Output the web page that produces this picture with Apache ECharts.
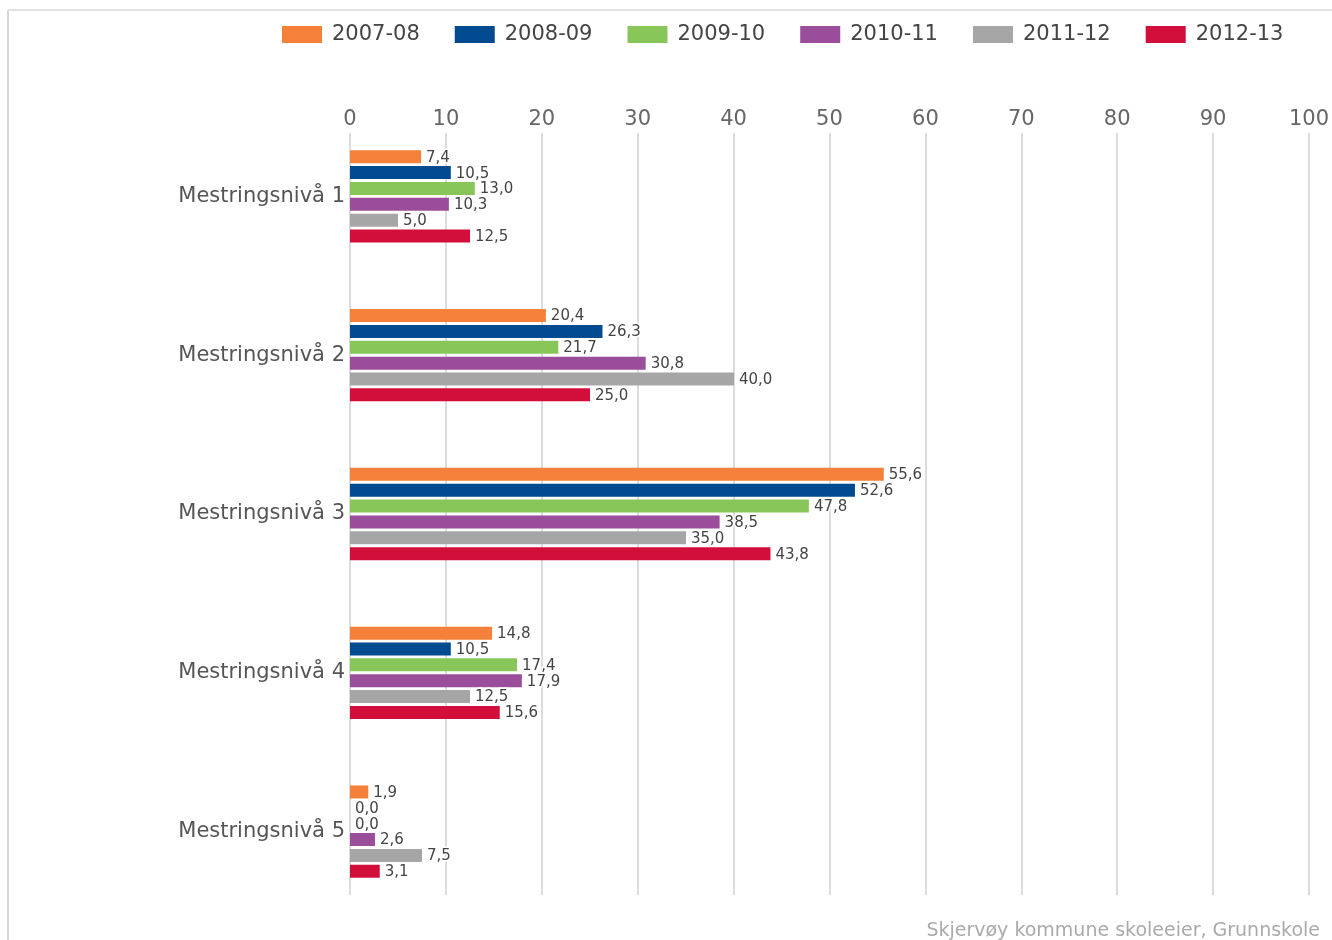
<!DOCTYPE html>
<html>
<head>
<meta charset="utf-8">
<script src="https://cdn.jsdelivr.net/npm/echarts@6/dist/echarts.min.js"></script>
<style>
	html, body { margin: 0; padding: 0; background: #fff; }
	#chart { width: 1332px; height: 940px; }
</style>
</head>
<body>
<div id="chart"></div>
<script>
	var categories = ["Mestringsnivå 1", "Mestringsnivå 2", "Mestringsnivå 3", "Mestringsnivå 4", "Mestringsnivå 5"];
	var years = ["2007-08", "2008-09", "2009-10", "2010-11", "2011-12", "2012-13"];
	var colors = ["#f5803a", "#004a8f", "#88c65a", "#9a4d9a", "#a6a6a6", "#d10f3a"];
	var v2007 = [7.4, 20.4, 55.6, 14.8, 1.9];
	var v2008 = [10.5, 26.3, 52.6, 10.5, 0.0];
	var v2009 = [13.0, 21.7, 47.8, 17.4, 0.0];
	var v2010 = [10.3, 30.8, 38.5, 17.9, 2.6];
	var v2011 = [5.0, 40.0, 35.0, 12.5, 7.5];
	var v2012 = [12.5, 25.0, 43.8, 15.6, 3.1];
	var values = [v2007, v2008, v2009, v2010, v2011, v2012];
	var ticks = [0, 10, 20, 30, 40, 50, 60, 70, 80, 90, 100];

	var font = "DejaVu Sans";
	var chart = echarts.init(document.getElementById("chart"));

	var series = years.map(function(y, i) {
		return {
			name: y,
			type: "bar",
			xAxisIndex: 0,
			yAxisIndex: 0,
			data: values[i],
			barWidth: 13,
			barGap: "22%",
			itemStyle: { color: colors[i] },
			label: {
				show: true,
				position: "right",
				distance: 5,
				offset: [0, 1],
				fontFamily: font,
				fontSize: 15,
				color: "#444",
				textBorderColor: "#fff",
				textBorderWidth: 3,
				formatter: function(p) { return p.value.toFixed(1).replace(".", ","); }
			}
		};
	});

	chart.setOption({
		animation: false,
		color: colors,
		legend: {
			data: years,
			left: 277,
			top: 19,
			itemWidth: 40,
			itemHeight: 17,
			itemGap: 35,
			icon: "rect",
			textStyle: { fontFamily: font, fontSize: 21, color: "#444", width: 90, padding: [0, 0, 0, 5] }
		},
		grid: [
			{ left: 350, right: 22, top: 117, height: 794 },
			{ left: 350, right: 22, top: 133, height: 762 }
		],
		xAxis: [
			{ gridIndex: 0, type: "value", min: 0, max: 100, interval: 10, show: false, splitLine: { show: false } },
			{
				gridIndex: 1, type: "value", position: "top", min: 0, max: 100, interval: 10,
				axisLine: { show: false }, axisTick: { show: false },
				axisLabel: {
					margin: 3, fontFamily: font, fontSize: 21, color: "#666",
					formatter: function(v) { return ticks.indexOf(v) >= 0 ? String(v) : ""; }
				},
				splitLine: { show: true, lineStyle: { color: "#dcdcdc", width: 2 } }
			}
		],
		yAxis: [
			{
				gridIndex: 0, type: "category", data: categories, inverse: true,
				axisLine: { show: false }, axisTick: { show: false },
				axisLabel: { margin: 5, fontFamily: font, fontSize: 21, color: "#555" }
			},
			{ gridIndex: 1, type: "category", data: [], show: false }
		],
		graphic: [
			{ type: "line", shape: { x1: 8, y1: 10, x2: 8, y2: 940 }, style: { stroke: "#d6d6d6", lineWidth: 2 } },
			{ type: "line", shape: { x1: 8, y1: 10, x2: 1332, y2: 10 }, style: { stroke: "#e2e2e2", lineWidth: 2 } },
			{
				type: "text", right: 12, top: 922,
				style: { text: "Skjervøy kommune skoleeier, Grunnskole", fontFamily: font, fontSize: 19, fill: "#aaa" }
			}
		],
		series: series
	});
</script>
</body>
</html>
